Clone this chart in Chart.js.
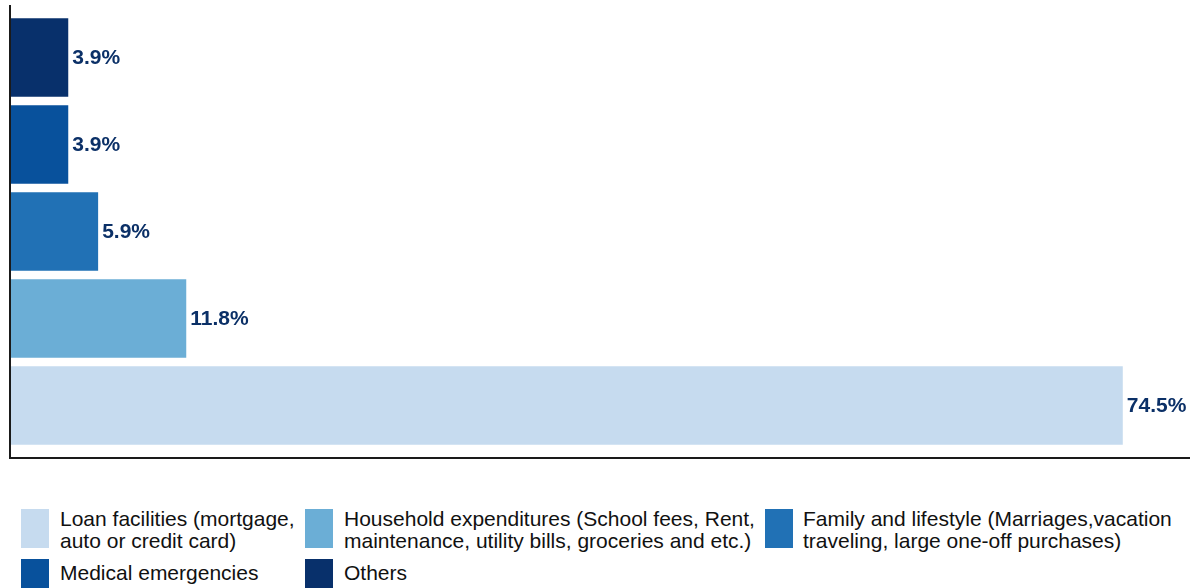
<!DOCTYPE html>
<html>
<head>
<meta charset="utf-8">
<script src="https://cdn.jsdelivr.net/npm/chart.js@4"></script>
<style>
  html, body { margin: 0; padding: 0; background: #fff; }
  body { width: 1194px; height: 588px; overflow: hidden; position: relative; font-family: "Liberation Sans", Arial, sans-serif; }
  #wrap { position: absolute; left: 0; top: 0; width: 1194px; height: 470px; }
  .leg-box { position: absolute; width: 28px; }
  .leg-text { position: absolute; font-size: 21px; line-height: 22px; color: #111; white-space: nowrap; }
</style>
</head>
<body>
<div id="wrap"><canvas id="barChart"></canvas></div>
<div id="legend"></div>
<script>
// --- Data ---
const categories = ['Others', 'Medical emergencies', 'Family and lifestyle', 'Household expenditures', 'Loan facilities'];
const shares = [3.9, 3.9, 5.9, 11.8, 74.5];
const barColors = ['#08306b', '#08519c', '#2171b5', '#6baed6', '#c6dbef'];

// legend order and wording as in the picture
const legendLabels = [
    ['Loan facilities (mortgage,', 'auto or credit card)'],
    ['Household expenditures (School fees, Rent,', 'maintenance, utility bills, groceries and etc.)'],
    ['Family and lifestyle (Marriages,vacation', 'traveling, large one-off purchases)'],
    ['Medical emergencies'],
    ['Others']
];
const legendColors = ['#c6dbef', '#6baed6', '#2171b5', '#08519c', '#08306b'];

// one dataset per category so each bar gets its own colour
const datasets = categories.map((cat, i) => ({
    label: cat,
    data: categories.map((c, j) => (j === i ? shares[i] : null)),
    backgroundColor: barColors[i],
    borderWidth: 0,
    barPercentage: 0.9,
    categoryPercentage: 1.0
}));

// value labels at the end of each bar
const valueLabels = {
    id: 'valueLabels',
    afterDatasetsDraw(chart) {
        const ctx = chart.ctx;
        ctx.save();
        ctx.font = 'bold 21px "Liberation Sans", Arial, sans-serif';
        ctx.fillStyle = '#0b3067';
        ctx.textAlign = 'left';
        ctx.textBaseline = 'middle';
        chart.data.datasets.forEach((ds, i) => {
            const meta = chart.getDatasetMeta(i);
            meta.data.forEach((bar, j) => {
                const v = ds.data[j];
                if (v === null) return;
                ctx.fillText(v.toFixed(1) + '%', bar.x + 4, bar.y + 1);
            });
        });
        ctx.restore();
    }
};

// plain black axis lines
const axisLines = {
    id: 'axisLines',
    afterDraw(chart) {
        const ctx = chart.ctx;
        const a = chart.chartArea;
        ctx.save();
        ctx.strokeStyle = '#1a1a1a';
        ctx.lineWidth = 2;
        ctx.beginPath();
        ctx.moveTo(a.left, a.top - 9);
        ctx.lineTo(a.left, a.bottom + 9);
        ctx.lineTo(a.right, a.bottom + 9);
        ctx.stroke();
        ctx.restore();
    }
};

const chart = new Chart(document.getElementById('barChart'), {
    type: 'bar',
    data: { labels: categories, datasets: datasets },
    options: {
        indexAxis: 'y',
        responsive: true,
        maintainAspectRatio: false,
        animation: false,
        layout: { padding: { left: 10, right: 4, top: 14, bottom: 21 } },
        plugins: {
            legend: { display: false },
            tooltip: { enabled: false }
        },
        scales: {
            x: { display: false, min: 0, max: 79, stacked: true },
            y: { display: false, stacked: true }
        }
    },
    plugins: [valueLabels, axisLines]
});

// --- HTML legend (wrapped, three columns) ---
const legendSpots = [
    { bx: 21, by: 509, bh: 39, tx: 60, ty: 508 },
    { bx: 305, by: 509, bh: 39, tx: 344, ty: 508 },
    { bx: 765, by: 509, bh: 39, tx: 803, ty: 508 },
    { bx: 21, by: 559, bh: 30, tx: 60, ty: 562 },
    { bx: 305, by: 559, bh: 30, tx: 344, ty: 562 }
];
const legend = document.getElementById('legend');
legendLabels.forEach((lines, i) => {
    const s = legendSpots[i];
    legend.innerHTML += `
        <div class="leg-box" style="left:${s.bx}px; top:${s.by}px; height:${s.bh}px; background:${legendColors[i]};"></div>
        <div class="leg-text" style="left:${s.tx}px; top:${s.ty}px;">${lines.join('<br>')}</div>
    `;
});
</script>
</body>
</html>
